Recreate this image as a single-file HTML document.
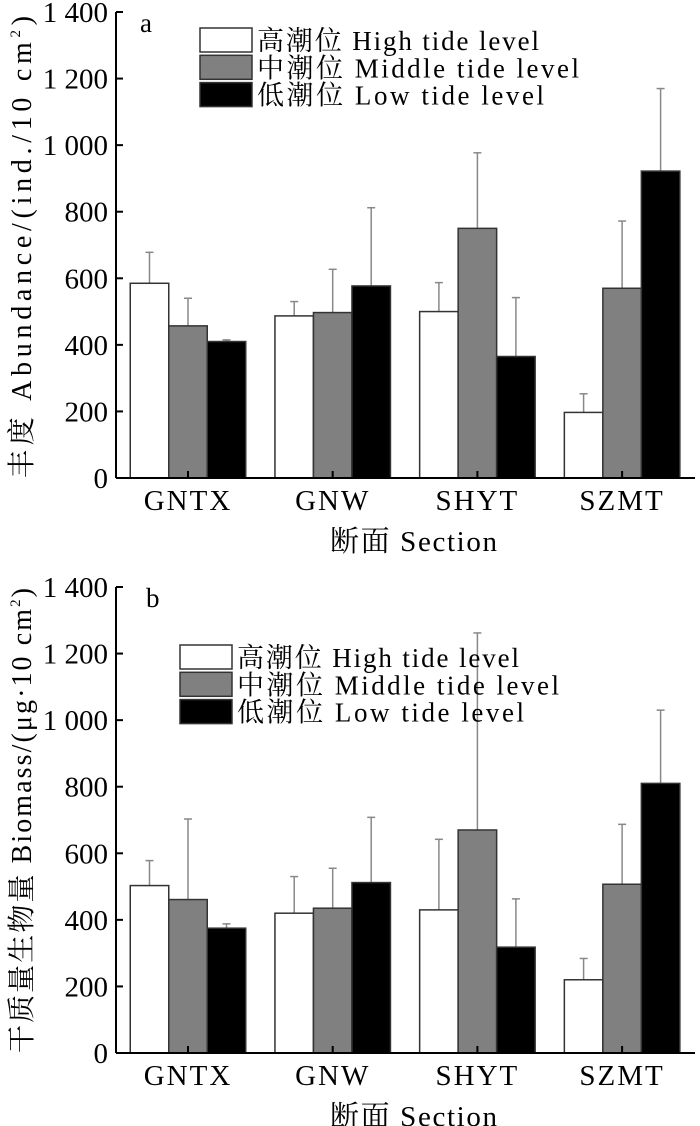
<!DOCTYPE html>
<html><head><meta charset="utf-8"><style>
html,body{margin:0;padding:0;background:#fff;}
svg{display:block;font-family:"Liberation Serif","Noto Serif CJK SC",serif;}
</style></head><body>
<svg id="fig" width="700" height="1126" viewBox="0 0 700 1126"></svg>
<script>
const categories = ["GNTX","GNW","SHYT","SZMT"];
const seriesNames = ["高潮位 High tide level","中潮位 Middle tide level","低潮位 Low tide level"];
const yTicks = [0,200,400,600,800,1000,1200,1400];
const yTickLabels = ["0","200","400","600","800","1 000","1 200","1 400"];
// Panel a abundance
const aHigh = [585,487,500,197];
const aHighErr = [678,530,587,253];
const aMid = [457,497,750,570];
const aMidErr = [540,627,977,772];
const aLow = [410,577,365,922];
const aLowErr = [415,812,542,1170];
// Panel b biomass
const bHigh = [503,420,430,220];
const bHighErr = [578,530,642,284];
const bMid = [461,435,670,507];
const bMidErr = [703,555,1262,687];
const bLow = [375,512,318,810];
const bLowErr = [388,708,463,1030];

const NS="http://www.w3.org/2000/svg";
const svg=document.getElementById('fig');
function mk(tag,attrs,parent){const e=document.createElementNS(NS,tag);for(const k in attrs)e.setAttribute(k,attrs[k]);(parent||svg).appendChild(e);return e;}
const fills=["#ffffff","#808080","#000000"];
const legendLens=[282,322,287];

function panel(p){
  const g=mk('g',{});
  
  
  const x0=116,x1=695,y0=p.y0,yTop=p.y0-466;
  const y=v=>y0-v*466/1400;
  const groupX=i=>188+i*144.7;
  const bw=38.5;
  const vals=[p.high,p.mid,p.low],errs=[p.highErr,p.midErr,p.lowErr];
  for(let s=0;s<3;s++){
    for(let i=0;i<categories.length;i++){
      const cx=groupX(i)+(s-1)*bw;
      const e=mk('line',{x1:cx,x2:cx,y1:y(vals[s][i]),y2:y(errs[s][i]),stroke:'#888','stroke-width':1.5},g);
      
      
      const c=mk('line',{x1:cx-4,x2:cx+4,y1:y(errs[s][i]),y2:y(errs[s][i]),stroke:'#888','stroke-width':1.5},g);
      
      
      const r=mk('rect',{x:cx-bw/2,y:y(vals[s][i]),width:bw,height:y(0)-y(vals[s][i]),fill:fills[s],stroke:'#333','stroke-width':1.5},g);
      
      
    }
  }
  const ya=mk('line',{x1:x0,x2:x0,y1:yTop,y2:y0,stroke:'#000','stroke-width':2},g);
  
  
  const xa=mk('line',{x1:x0,x2:x1,y1:y0,y2:y0,stroke:'#000','stroke-width':2},g);
  
  
  yTicks.forEach((t,k)=>{
    mk('line',{x1:x0,x2:x0+7,y1:y(t),y2:y(t),stroke:'#000','stroke-width':2},g);
    const tl=mk('text',{x:108,y:y(t)+10,'text-anchor':'end','font-size':29},g);
    tl.textContent=yTickLabels[k];
    
    
  });
  categories.forEach((c,i)=>{
    mk('line',{x1:groupX(i),x2:groupX(i),y1:y0,y2:y0-7,stroke:'#000','stroke-width':2},g);
    const t=mk('text',{x:groupX(i),y:y0+32,'text-anchor':'middle','font-size':29,'letter-spacing':2},g);
    t.textContent=c;
    
    
  });
  const xt=mk('text',{x:330,y:y0+73,'font-size':29,textLength:167,lengthAdjust:'spacing'},g);
  xt.textContent='断面 Section';
  
  
  const yt=mk('text',{x:0,y:0,'font-size':28,textLength:p.ytLen,lengthAdjust:'spacing',transform:`translate(31,${p.ytStart}) rotate(-90)`},g);
  yt.innerHTML=p.ytitle;
  
  
  const pl=mk('text',{x:p.labelX,y:yTop+20,'font-size':27},g);
  pl.textContent=p.letter;
  
  
  seriesNames.forEach((n,s)=>{
    const ly=p.legY+s*27.3;
    const b=mk('rect',{x:p.legX,y:ly,width:52,height:24,fill:fills[s],stroke:'#333','stroke-width':1.5},g);
    
    
    const t=mk('text',{x:p.legX+57,y:ly+22,'font-size':27,textLength:legendLens[s],lengthAdjust:'spacing'},g);
    t.textContent=n;
    
    
  });
}
panel({name:'panel-a-abundance',y0:478,high:aHigh,highErr:aHighErr,mid:aMid,midErr:aMidErr,low:aLow,lowErr:aLowErr,
  ytitle:'丰度 Abundance/(ind./10 cm<tspan dy="-11" font-size="15">2</tspan><tspan dy="11">)</tspan>',ytStart:478,ytLen:462,letter:'a',labelX:140,legX:200,legY:28});
panel({name:'panel-b-biomass',y0:1053,high:bHigh,highErr:bHighErr,mid:bMid,midErr:bMidErr,low:bLow,lowErr:bLowErr,
  ytitle:'干质量生物量 Biomass/(μg·10 cm<tspan dy="-11" font-size="15">2</tspan><tspan dy="11">)</tspan>',ytStart:1053,ytLen:465,letter:'b',labelX:146,legX:180,legY:645});
</script>
</body></html>
